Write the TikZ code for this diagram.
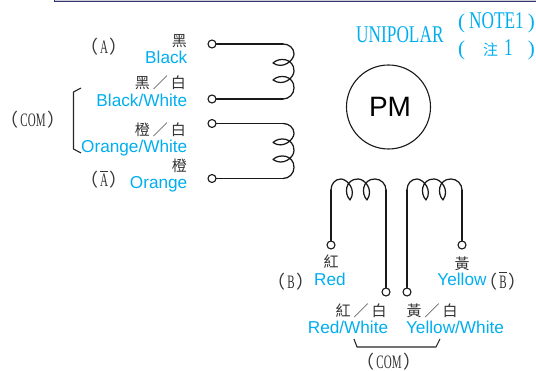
\documentclass[tikz,border=0pt]{standalone}
\usepackage{fontspec}
\setmainfont{Liberation Serif}
\setsansfont{Liberation Sans}
\newfontfamily\cjk{Noto Sans CJK TC}
\usepackage{graphicx}
\definecolor{cyanlab}{HTML}{00AEEF}
\definecolor{inkgray}{HTML}{333333}
\newcommand{\lat}[1]{\scalebox{.58}[1]{\fontsize{19}{19}\selectfont #1}}
\newcommand{\barred}[1]{\smash{\rlap{\raisebox{15pt}{\rule{7.5pt}{.7pt}}}}\lat{#1}}
\newcommand{\biglat}[1]{\scalebox{.72}[1]{\fontsize{24}{24}\selectfont #1}}
\newcommand{\lp}{\smash{\cjk\fontsize{18}{18}\selectfont （}\hspace{2pt}}
\newcommand{\rp}{\hspace{2pt}\smash{\cjk\fontsize{18}{18}\selectfont ）}}
\newcommand{\nlp}{\smash{\fontsize{21}{21}\selectfont (}}
\newcommand{\nrp}{\smash{\fontsize{21}{21}\selectfont )}}
\newcommand{\coilshape}{%
  \draw[wire] (0,0) .. controls (6,0) and (11,4) .. (11,10)
    .. controls (11,16) and (0,26) .. (-10,19)
    .. controls (-4,13) and (11,14) .. (11,27)
    .. controls (11,34) and (0,43) .. (-10,36)
    .. controls (-4,30) and (11,31) .. (11,44)
    .. controls (11,50) and (6,55) .. (0,55);}
\tikzset{
  wire/.style={line width=1.25pt,line cap=round,line join=round,draw=black!90},
  term/.style={circle,draw=black!90,line width=1.1pt,fill=white,minimum size=8pt,inner sep=0pt},
  en/.style={font=\sffamily\fontsize{17.2}{17.2}\selectfont,text=cyanlab,inner sep=0pt},
  zh/.style={font=\cjk\fontsize{15}{15}\selectfont,text=inkgray,inner sep=0pt},
  tag/.style={text=inkgray,inner sep=0pt},
  note/.style={text=cyanlab,inner sep=0pt},
  brace/.style={line width=1.1pt,draw=black!85,line join=round},
}
\begin{document}
\begin{tikzpicture}[x=1pt,y=-1pt]
\useasboundingbox (0,0) rectangle (536,371);
% top rule
\fill[blue!10!gray!35] (54,0) rectangle (536,1);
\draw[line width=.8pt,draw=black!60!blue!60!gray] (54,-1) -- (54,1.3) -- (536,1.3);
% terminals
\node[term] (t1) at (212,44) {};
\node[term] (t2) at (212,99) {};
\node[term] (t3) at (212,123.5) {};
\node[term] (t4) at (212,178.5) {};
\node[term] (t5) at (331,245) {};
\node[term] (t6) at (386,292) {};
\node[term] (t7) at (407,292) {};
\node[term] (t8) at (462,245) {};
% coil ends
\coordinate (c1a) at (283,44);
\coordinate (c1b) at (283,99);
\coordinate (c2a) at (283,123.5);
\coordinate (c2b) at (283,178.5);
\coordinate (c3a) at (331,190);
\coordinate (c3b) at (386,190);
\coordinate (c4a) at (407,190);
\coordinate (c4b) at (462,190);
\draw[wire] (t1) -- (c1a);
\draw[wire] (t2) -- (c1b);
\draw[wire] (t3) -- (c2a);
\draw[wire] (t4) -- (c2b);
\draw[wire] (t5) -- (c3a);
\draw[wire] (t6) -- (c3b);
\draw[wire] (t7) -- (c4a);
\draw[wire] (t8) -- (c4b);
% coils
\begin{scope}[shift={(c1a)}]\coilshape\end{scope}
\begin{scope}[shift={(c2a)}]\coilshape\end{scope}
\begin{scope}[shift={(c3a)},x={(0pt,1pt)},y={(1pt,0pt)}]\coilshape\end{scope}
\begin{scope}[shift={(c4a)},x={(0pt,1pt)},y={(1pt,0pt)}]\coilshape\end{scope}
% motor
\node[circle,draw=black!90,line width=1.1pt,minimum size=84pt,inner sep=0pt,font=\sffamily\fontsize{28}{28}\selectfont] (pm) at (388.5,107) {\hspace{3pt}PM};
% brackets
\coordinate (b1) at (81,88);
\coordinate (b2) at (73.5,92);
\coordinate (b3) at (73.5,149);
\coordinate (b4) at (81,153);
\draw[brace] (b1) -- (b2) -- (b3) -- (b4);
\coordinate (d1) at (354,339);
\coordinate (d2) at (357,347);
\coordinate (d3) at (436,347);
\coordinate (d4) at (440,339);
\draw[brace] (d1) -- (d2) -- (d3) -- (d4);
% left labels
\node[zh,anchor=east] (l1) at (187,41) {黑};
\node[en,anchor=base east] (l2) at (187.5,64) {Black};
\node[zh,anchor=east] (l3) at (186,83) {黑\hspace{3pt}／\hspace{3pt}白};
\node[en,anchor=base east] (l4) at (187.5,106.5) {Black/White};
\node[zh,anchor=east] (l5) at (186,130) {橙\hspace{3pt}／\hspace{3pt}白};
\node[en,anchor=base east] (l6) at (187.5,152.5) {Orange/White};
\node[zh,anchor=east] (l7) at (187,166) {橙};
\node[en,anchor=base east] (l8) at (187.5,188.5) {Orange};
\node[tag] (a1) at (104,47) {\lp\lat{A}\rp};
\node[tag] (a2) at (104,180) {\lp\barred{A}\rp};
\node[tag] (a3) at (33,120.5) {\lp\lat{COM}\rp};
% bottom labels
\node[zh] (r1) at (331,262) {紅};
\node[en,anchor=base] (r2) at (330,286) {Red};
\node[tag] (b5) at (291,282) {\lp\lat{B}\rp};
\node[zh] (y1) at (462,264) {黃};
\node[en,anchor=base] (y2) at (462,286) {Yellow};
\node[tag] (b6) at (503,282) {\lp\barred{B}\rp};
\node[zh] (r3) at (361,311) {紅\hspace{3pt}／\hspace{3pt}白};
\node[en,anchor=base] (r4) at (348,333.5) {Red/White};
\node[zh] (y3) at (432,311) {黃\hspace{3pt}／\hspace{3pt}白};
\node[en,anchor=base] (y4) at (455,333.5) {Yellow/White};
\node[tag] (c5) at (389,362) {\lp\lat{COM}\rp};
% title
\node[note,anchor=base west] (n1) at (356,43) {\biglat{UNIPOLAR}};
\node[note] (n2) at (496.5,21) {\nlp\kern4pt\biglat{NOTE1}\kern4pt\nrp};
\node[note] (n3) at (496.5,48) {\nlp\kern18pt{\cjk\fontsize{15}{15}\selectfont 注}\kern6pt\biglat{1}\kern15pt\nrp};
\end{tikzpicture}
\end{document}
